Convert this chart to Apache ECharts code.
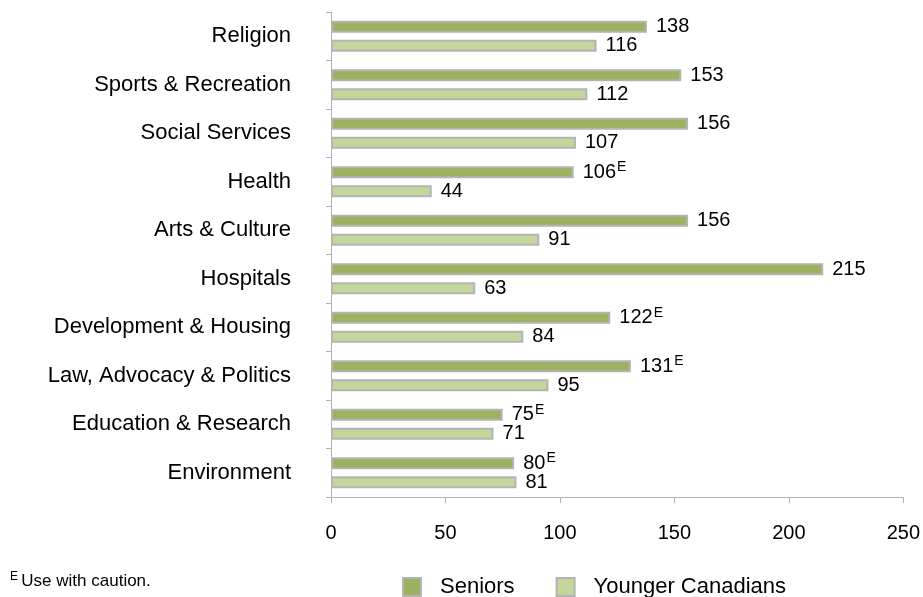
<!DOCTYPE html>
<html>
<head>
<meta charset="utf-8">
<script src="https://cdn.jsdelivr.net/npm/echarts@6/dist/echarts.min.js"></script>
<style>
  html, body { margin: 0; padding: 0; background: #fff; }
  #chart { width: 923px; height: 597px; }
</style>
</head>
<body>
<div id="chart"></div>
<script>
var categories = ['Religion', 'Sports & Recreation', 'Social Services', 'Health', 'Arts & Culture',
  'Hospitals', 'Development & Housing', 'Law, Advocacy & Politics', 'Education & Research', 'Environment']
var seniors = [138, 153, 156, 106, 156, 215, 122, 131, 75, 80]
// E = use with caution
var seniorsFlag = ['', '', '', 'E', '', '', 'E', 'E', 'E', 'E']
var younger = [116, 112, 107, 44, 91, 63, 84, 95, 71, 81]
var xTicks = [0, 50, 100, 150, 200, 250]

var font = 'Liberation Sans, Arial, sans-serif'
var myChart = echarts.init(document.getElementById('chart'))

function labelFmt(flags) {
  return function (p) {
    var f = flags ? flags[p.dataIndex] : ''
    return '{v|' + p.value + '}' + (f ? '{e|' + f + '}' : '')
  }
}

var labelRich = {
  v: { fontSize: 20, fontFamily: font, color: '#000' },
  e: { fontSize: 14, fontFamily: font, color: '#000', verticalAlign: 'top', padding: [0, 0, 10, 1] }
}

var option = {
  animation: false,
  grid: { left: 331, right: 17, top: 12, bottom: 100 },
  legend: {
    data: ['Seniors', 'Younger Canadians'],
    left: 397,
    top: 571,
    icon: 'rect',
    itemWidth: 18,
    itemHeight: 18,
    itemGap: 41,
    textStyle: { fontSize: 22, fontFamily: font, color: '#000', padding: [0, 0, 0, 14] }
  },
  graphic: [{
    type: 'text',
    left: 10,
    top: 571,
    style: {
      text: '{e|E} {t|Use with caution.}',
      rich: {
        e: { fontSize: 12, fontFamily: font, color: '#000', verticalAlign: 'top', padding: [0, 0, 8, 0] },
        t: { fontSize: 17, fontFamily: font, color: '#000' }
      }
    }
  }],
  xAxis: {
    type: 'value',
    min: 0,
    max: 250,
    interval: 50,
    axisLine: { show: true, lineStyle: { color: '#b3b3b3', width: 1 } },
    axisTick: { show: true, length: 6, lineStyle: { color: '#b3b3b3' } },
    splitLine: { show: false },
    axisLabel: {
      margin: 26,
      fontSize: 20,
      fontFamily: font,
      color: '#000',
      formatter: function (v) { return xTicks.indexOf(v) >= 0 ? String(v) : '' }
    }
  },
  yAxis: {
    type: 'category',
    inverse: true,
    data: categories,
    axisLine: { show: true, lineStyle: { color: '#b3b3b3', width: 1 } },
    axisTick: { show: true, length: 5, lineStyle: { color: '#b3b3b3' } },
    axisLabel: { margin: 40, fontSize: 22, fontFamily: font, color: '#000' }
  },
  series: [
    {
      name: 'Seniors',
      type: 'bar',
      data: seniors,
      barWidth: 12,
      barGap: '60%',
      itemStyle: { color: '#9bb35f', borderColor: '#b4b4b4', borderWidth: 2 },
      label: { show: true, position: 'right', distance: 9, formatter: labelFmt(seniorsFlag), rich: labelRich }
    },
    {
      name: 'Younger Canadians',
      type: 'bar',
      data: younger,
      barWidth: 12,
      barGap: '60%',
      itemStyle: { color: '#c3d69b', borderColor: '#b4b4b4', borderWidth: 2 },
      label: { show: true, position: 'right', distance: 9, formatter: labelFmt(null), rich: labelRich }
    }
  ]
}
myChart.setOption(option)
</script>
</body>
</html>
